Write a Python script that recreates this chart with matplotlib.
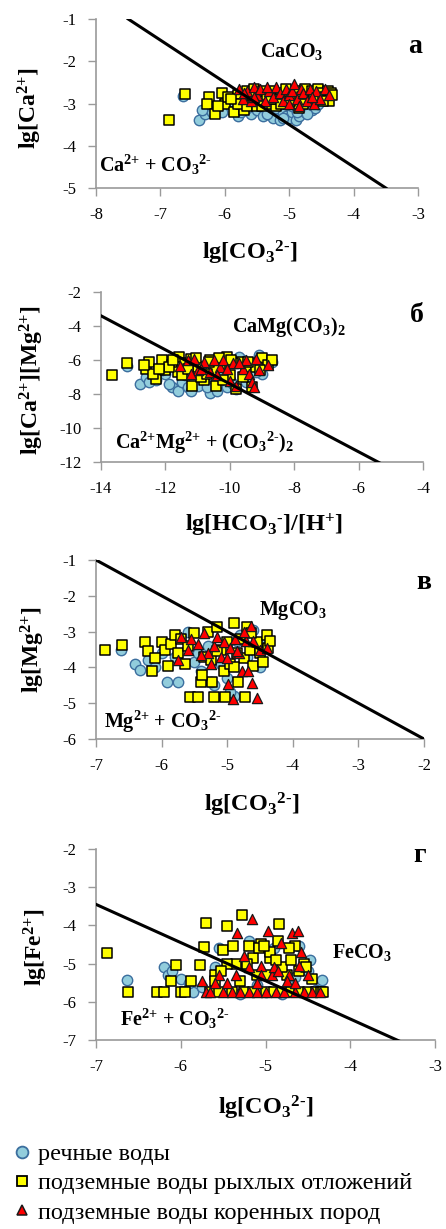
import numpy as np
import matplotlib
matplotlib.use("Agg")
import matplotlib.pyplot as plt
from matplotlib.lines import Line2D

plt.rcParams['font.family'] = ['Liberation Serif', 'DejaVu Serif']
plt.rcParams['mathtext.fontset'] = 'custom'
plt.rcParams['mathtext.rm'] = 'Liberation Serif:bold'
plt.rcParams['mathtext.bf'] = 'Liberation Serif:bold'
plt.rcParams['mathtext.default'] = 'bf'
plt.rcParams['axes.unicode_minus'] = False

# ---- panel а : CaCO3 ----
a_riv_x = [-6.65,-6.4,-6.3,-6.2,-6.1,-6.0,-5.9,-5.8,-5.75,-5.7,-5.6,-5.5,-5.45,-5.4,-5.3,-5.25,-5.2,-5.15,-5.1,-5.05,-5.0,-4.95,-4.9,-4.85,-4.8,-4.75,-4.7,-4.65,-4.6,-4.55,-4.5,-4.45,-4.4,-5.35,-5.9,-5.6,-4.95,-5.2,
           -6.35,-6.05,-5.65,-5.35,-5.1,-4.88,-4.72,-4.58]
a_riv_y = [-2.83,-3.38,-3.25,-3.2,-3.1,-3.05,-3.15,-3.3,-3.2,-3.0,-3.25,-3.15,-3.05,-3.3,-3.2,-3.35,-3.1,-3.4,-3.25,-3.3,-3.35,-3.2,-3.4,-3.3,-3.1,-3.2,-3.05,-3.15,-3.1,-3.0,-2.9,-2.85,-2.8,-3.0,-2.95,-2.9,-3.05,-2.95,
           -3.15,-3.2,-3.1,-3.25,-3.35,-3.2,-3.25,-2.95]
a_sed_x = [-6.87,-6.62,-6.25,-6.28,-6.15,-6.05,-6.0,-5.95,-5.85,-5.8,-5.75,-5.7,-5.65,-5.6,-5.55,-5.5,-5.45,-5.4,-5.35,-5.3,-5.25,-5.2,-5.15,-5.1,-5.05,-5.0,-4.95,-4.9,-4.85,-4.8,-4.75,-4.7,-4.65,-4.6,-4.55,-4.5,-4.45,-4.4,-4.38,-4.35,-5.8,-5.65,-5.2,-4.85,-6.1,-5.5,-5.0,-4.6,
           -5.9,-5.58,-5.42,-5.28,-5.12,-4.98,-4.78,-4.62,-4.48,-4.33]
a_sed_y = [-3.4,-2.78,-2.85,-3.0,-3.25,-2.75,-3.0,-2.85,-3.2,-2.8,-3.0,-3.15,-2.7,-2.9,-2.65,-2.85,-2.95,-2.7,-2.8,-3.0,-2.7,-3.05,-2.75,-2.9,-2.65,-3.0,-2.8,-2.7,-3.1,-2.85,-2.65,-2.95,-2.7,-2.8,-2.65,-2.75,-2.85,-2.7,-2.95,-2.75,-3.0,-3.05,-2.9,-3.0,-3.05,-3.05,-2.85,-2.9,
           -2.9,-2.8,-3.05,-2.9,-3.0,-2.95,-3.0,-2.9,-2.95,-2.8]
a_bed_x = [-5.78,-5.72,-5.65,-5.6,-5.55,-5.5,-5.45,-5.38,-5.32,-5.25,-5.2,-5.15,-5.1,-5.05,-5.0,-4.95,-4.92,-4.88,-4.82,-4.78,-4.72,-4.68,-4.62,-4.58,-4.52,-4.45,-4.38,-5.7,-5.35,-5.0,-4.65,-5.55,-4.85]
a_bed_y = [-2.65,-2.9,-2.7,-2.95,-2.6,-2.8,-2.65,-2.95,-2.7,-2.85,-2.6,-2.75,-2.95,-2.65,-2.8,-2.7,-2.55,-2.9,-2.65,-2.75,-2.95,-2.65,-3.0,-2.7,-2.9,-2.65,-2.8,-2.75,-2.6,-3.0,-2.85,-2.85,-3.05]
a_line_x = [-7.5, -3.5]
a_line_y = [-1, -5]

# ---- panel б : CaMg(CO3)2 ----
b_riv_x = [-13.2,-12.8,-12.6,-12.3,-12.0,-11.8,-11.6,-11.5,-11.3,-11.1,-11.0,-10.8,-10.6,-10.5,-10.3,-10.1,-10.0,-9.8,-9.6,-9.5,-9.3,-9.1,-9.0,-8.9,-8.8,-8.7,-11.4,-10.9,-10.2,-9.7,-9.2,-12.1,
           -12.5,-11.9,-11.2,-10.7,-10.4,-9.9]
b_riv_y = [-6.35,-7.4,-7.0,-7.2,-6.8,-7.6,-7.8,-7.3,-7.6,-7.1,-7.5,-7.2,-7.95,-7.4,-7.0,-7.6,-7.2,-7.7,-6.0,-7.3,-6.5,-5.7,-6.8,-6.3,-6.0,-6.1,-6.9,-6.5,-6.2,-5.8,-6.7,-6.6,
           -7.3,-7.4,-7.8,-7.6,-7.8,-7.4]
b_sed_x = [-13.66,-13.2,-12.6,-12.5,-12.3,-12.1,-12.0,-11.8,-11.6,-11.57,-11.4,-11.2,-11.17,-11.0,-10.8,-10.6,-10.43,-10.3,-10.1,-10.0,-9.8,-9.7,-9.5,-9.3,-9.1,-9.0,-8.8,-8.7,-12.4,-11.9,-11.5,-10.9,-10.5,-10.2,-9.9,-9.6,-9.2,-10.7,-11.3,
           -12.65,-12.2,-11.75,-11.05,-10.65,-10.35,-9.95,-9.45,-9.05]
b_sed_y = [-6.9,-6.15,-6.5,-6.1,-7.1,-6.0,-6.6,-6.3,-6.7,-5.85,-6.2,-5.95,-7.5,-6.4,-7.2,-6.0,-7.5,-6.3,-5.8,-6.9,-7.7,-6.1,-6.5,-7.6,-6.2,-5.9,-6.3,-6.0,-6.8,-6.4,-6.9,-7.0,-6.6,-7.2,-6.2,-7.0,-6.4,-6.8,-6.55,
           -6.3,-6.5,-6.0,-5.9,-6.1,-5.9,-6.0,-6.1,-6.6]
b_bed_x = [-11.55,-11.3,-11.1,-11.0,-10.8,-10.6,-10.5,-10.3,-10.2,-10.0,-9.9,-9.8,-9.6,-9.5,-9.4,-9.3,-9.2,-9.1,-8.8,-10.9,-10.4,-9.7,-9.25,-10.1,-11.2]
b_bed_y = [-6.35,-6.0,-5.95,-6.6,-6.1,-6.7,-6.0,-6.4,-6.0,-7.25,-6.2,-7.55,-6.5,-6.0,-6.8,-7.3,-5.95,-6.6,-6.3,-6.5,-6.9,-6.2,-7.6,-6.55,-6.8]
b_line_x = [-14, -5.3]
b_line_y = [-3.4, -12.1]

# ---- panel в : MgCO3 ----
c_riv_x = [-6.62,-6.4,-6.33,-6.2,-6.0,-5.92,-5.75,-5.6,-5.5,-5.4,-5.3,-5.2,-5.1,-5.0,-4.9,-4.8,-4.7,-4.6,-4.55,-4.5,-4.45,-5.45,-5.25,-4.95,-4.85,-6.1,-5.8]
c_riv_y = [-3.5,-3.9,-4.07,-3.8,-3.6,-4.4,-4.4,-3.0,-3.85,-4.1,-3.4,-4.5,-3.9,-4.3,-4.8,-3.1,-3.7,-2.95,-3.5,-4.0,-3.3,-3.6,-4.4,-4.7,-3.25,-4.0,-3.7]
c_sed_x = [-6.86,-6.6,-6.25,-6.2,-6.15,-6.0,-5.95,-5.9,-5.85,-5.8,-5.75,-5.7,-5.6,-5.57,-5.5,-5.45,-5.4,-5.35,-5.3,-5.25,-5.23,-5.2,-5.16,-5.1,-5.05,-5.03,-5.0,-4.95,-4.9,-4.85,-4.84,-4.8,-4.75,-4.73,-4.7,-4.65,-4.6,-4.55,-4.5,-4.45,-4.4,-4.38,-4.35,-6.1,-5.65,-5.38,-5.15,-4.9,-4.64]
c_sed_y = [-3.51,-3.37,-3.3,-3.55,-4.1,-3.3,-3.5,-3.95,-3.35,-3.1,-3.6,-3.2,-3.4,-4.83,-3.05,-4.83,-4.4,-3.7,-3.0,-3.8,-4.4,-4.83,-2.87,-3.5,-4.1,-4.83,-3.3,-3.9,-2.76,-3.6,-4.4,-3.2,-3.75,-4.83,-2.87,-3.5,-3.95,-3.3,-3.6,-3.85,-3.1,-3.45,-3.25,-3.75,-3.9,-4.2,-3.55,-4.0,-3.05]
c_bed_x = [-5.75,-5.7,-5.6,-5.55,-5.45,-5.35,-5.3,-5.2,-5.15,-5.1,-5.05,-4.99,-4.95,-4.91,-4.88,-4.82,-4.78,-4.72,-4.68,-4.64,-4.62,-4.6,-4.55,-4.5,-4.4,-5.25,-5.0,-4.85,-4.75,-5.4]
c_bed_y = [-3.8,-3.15,-3.5,-3.2,-3.35,-3.05,-3.6,-3.4,-3.15,-3.7,-3.3,-4.46,-3.45,-4.88,-3.2,-3.6,-4.1,-3.25,-4.1,-2.85,-4.44,-3.25,-4.86,-3.5,-3.45,-3.9,-3.75,-3.55,-3.0,-3.65]
c_line_x = [-7, -2]
c_line_y = [-1, -6]

# ---- panel г : FeCO3 ----
d_riv_x = [-6.63,-6.2,-6.15,-6.1,-6.0,-5.85,-5.75,-5.6,-5.55,-5.45,-5.3,-5.2,-5.1,-5.0,-4.9,-4.8,-4.7,-4.6,-4.5,-4.47,-4.4,-4.33,-5.9,-5.25,-4.65]
d_riv_y = [-5.43,-5.1,-5.3,-5.2,-5.4,-5.75,-5.6,-5.1,-4.6,-5.7,-5.8,-4.4,-5.55,-5.75,-4.6,-5.8,-5.5,-4.55,-5.2,-4.9,-5.7,-5.43,-5.5,-5.0,-5.35]
d_sed_x = [-6.87,-6.62,-6.28,-6.2,-6.12,-6.06,-6.0,-5.95,-5.88,-5.77,-5.73,-5.7,-5.65,-5.6,-5.55,-5.5,-5.45,-5.4,-5.35,-5.28,-5.25,-5.2,-5.15,-5.1,-5.05,-5.0,-4.95,-4.9,-4.85,-4.84,-4.8,-4.75,-4.7,-4.65,-4.6,-4.55,-4.5,-4.45,-4.4,-4.35,-4.32,-5.45,-5.0,-4.8,-5.3,-4.7,-5.6,-5.15,-4.95,-4.6,
           -5.38,-5.22,-5.08,-4.88,-4.72,-4.52,-5.52,-5.02]
d_sed_y = [-4.72,-5.74,-5.74,-5.74,-5.45,-5.04,-5.74,-5.74,-5.45,-5.04,-4.56,-3.94,-5.74,-5.3,-5.74,-4.65,-4.02,-5.74,-5.0,-3.73,-5.74,-4.55,-5.74,-5.3,-4.5,-5.74,-4.85,-5.74,-4.4,-3.97,-5.74,-5.3,-5.74,-4.55,-5.74,-5.0,-5.74,-5.4,-5.74,-5.74,-5.74,-5.0,-5.3,-5.1,-5.45,-4.9,-5.45,-4.85,-4.7,-5.2,
           -4.55,-5.0,-4.6,-4.9,-4.6,-5.1,-5.2,-4.55]
d_bed_x = [-5.75,-5.7,-5.65,-5.55,-5.5,-5.45,-5.4,-5.34,-5.3,-5.25,-5.2,-5.16,-5.1,-5.05,-5.0,-4.97,-4.92,-4.88,-4.82,-4.78,-4.72,-4.69,-4.65,-4.62,-4.6,-4.55,-4.5,-4.45,-4.36,-5.35,-5.2,-5.05,-4.9,-4.75,-4.58,-5.6,-5.1,-4.85,-4.65]
d_bed_y = [-5.45,-5.74,-5.74,-5.3,-5.74,-5.5,-5.74,-4.2,-5.74,-4.8,-5.74,-3.83,-5.74,-5.05,-5.74,-4.15,-5.3,-5.74,-4.45,-5.74,-5.3,-4.2,-5.74,-4.15,-5.05,-5.74,-5.3,-5.74,-5.74,-5.3,-5.1,-5.3,-5.1,-5.45,-4.7,-5.5,-5.5,-5.2,-5.5]
d_line_x = [-7, -3.4]
d_line_y = [-3.45, -7.05]

legend_labels = ['речные воды', 'подземные воды рыхлых отложений', 'подземные воды коренных пород']

W, H = 446, 1229
fig = plt.figure(figsize=(W/100, H/100), dpi=100)

P = r'\text{+}'
M = r'\text{-}'
CO3 = r'CO$_3$$^{2' + M + '}$'

panels = [
    dict(px=(96, 418, 19, 188), xlim=(-8, -3), ylim=(-5, -1), xt=np.arange(-8, -2, 1), yt=np.arange(-5, 0, 1),
         riv=(a_riv_x, a_riv_y), sed=(a_sed_x, a_sed_y), bed=(a_bed_x, a_bed_y), line=(a_line_x, a_line_y),
         xlabel='lg[' + CO3 + ']', ylabel='lg[Ca$^{2' + P + '}$]', letter='а', lpos=(-3.05, -1.65),
         top=(r'CaCO$_3$', -4.96, -1.78), bot=('Ca$^{2' + P + '}$ + ' + CO3, -7.08, -4.46),
         xl=(250, 253), yl=(30, 108)),
    dict(px=(101, 423, 292, 462), xlim=(-14, -4), ylim=(-12, -2), xt=np.arange(-14, -3, 2), yt=np.arange(-12, -1, 2),
         riv=(b_riv_x, b_riv_y), sed=(b_sed_x, b_sed_y), bed=(b_bed_x, b_bed_y), line=(b_line_x, b_line_y),
         xlabel='lg[HCO$_3$$^{' + M + '}$]/[H$^{' + P + '}$]', ylabel='lg[Ca$^{2' + P + '}$][Mg$^{2' + P + '}$]',
         letter='б', lpos=(-4.2, -3.4),
         top=(r'CaMg(CO$_3$)$_2$', -8.18, -4.06),
         bot=('Ca$^{2' + P + '}$Mg$^{2' + P + '}$ + (CO$_3$$^{2' + M + '}$)$_2$', -10.8, -10.9),
         xl=(264, 525), yl=(32, 380)),
    dict(px=(96, 424, 560, 739), xlim=(-7, -2), ylim=(-6, -1), xt=np.arange(-7, -1, 1), yt=np.arange(-6, 0, 1),
         riv=(c_riv_x, c_riv_y), sed=(c_sed_x, c_sed_y), bed=(c_bed_x, c_bed_y), line=(c_line_x, c_line_y),
         xlabel='lg[' + CO3 + ']', ylabel='lg[Mg$^{2' + P + '}$]', letter='в', lpos=(-2.0, -1.64),
         top=(r'MgCO$_3$', -4.0, -2.4), bot=('Mg$^{2' + P + '}$ + ' + CO3, -5.98, -5.52),
         xl=(252, 805), yl=(33, 650)),
    dict(px=(96, 435, 849, 1040), xlim=(-7, -3), ylim=(-7, -2), xt=np.arange(-7, -2, 1), yt=np.arange(-7, -1, 1),
         riv=(d_riv_x, d_riv_y), sed=(d_sed_x, d_sed_y), bed=(d_bed_x, d_bed_y), line=(d_line_x, d_line_y),
         xlabel='lg[' + CO3 + ']', ylabel='lg[Fe$^{2' + P + '}$]', letter='г', lpos=(-3.18, -2.16),
         top=(r'FeCO$_3$', -3.86, -4.7), bot=('Fe$^{2' + P + '}$ + ' + CO3, -6.07, -6.45),
         xl=(266, 1108), yl=(36, 947)),
]

riv_style = dict(marker='o', s=56, facecolor='#92CDDC', edgecolor='#3B6E9E', linewidths=1.0)
sed_style = dict(marker='s', s=46, facecolor='#FFFF00', edgecolor='black', linewidths=1.1)
bed_style = dict(marker='^', s=54, facecolor='#FF0000', edgecolor='#1a1a1a', linewidths=0.9)

for p in panels:
    l, r, t, b = p['px']
    ax = fig.add_axes([l/W, 1 - b/H, (r-l)/W, (b-t)/H])
    ax.scatter(*p['riv'], zorder=2, clip_on=False, **riv_style)
    ax.scatter(*p['sed'], zorder=3, clip_on=False, **sed_style)
    ax.scatter(*p['bed'], zorder=4, clip_on=False, **bed_style)
    ax.plot(*p['line'], color='black', lw=2.2, zorder=5)
    ax.set_xlim(*p['xlim'])
    ax.set_ylim(*p['ylim'])
    ax.set_xticks(p['xt'])
    ax.set_yticks(p['yt'])
    ax.set_xticklabels([str(v) for v in p['xt']])
    ax.set_yticklabels([str(v) for v in p['yt']])
    ax.tick_params(direction='out', length=6, width=1, color='#9a9a9a', labelsize=12, pad=8,
                   labelfontfamily='Liberation Serif')
    for s in ['top', 'right']:
        ax.spines[s].set_visible(False)
    for s in ['left', 'bottom']:
        ax.spines[s].set_color('#9a9a9a')
        ax.spines[s].set_linewidth(1.2)
    ax.set_xlabel(p['xlabel'], fontsize=17.5, fontweight='bold', va='center')
    ax.set_ylabel(p['ylabel'], fontsize=17, fontweight='bold', va='center')
    ax.xaxis.set_label_coords((p['xl'][0] - l) / (r - l), (b - p['xl'][1]) / (b - t))
    ax.yaxis.set_label_coords((p['yl'][0] - l) / (r - l), (b - p['yl'][1]) / (b - t))
    ax.text(p['lpos'][0], p['lpos'][1], p['letter'], fontsize=20, fontweight='bold', ha='center', va='center')
    tx = p['top']
    ax.text(tx[1], tx[2], tx[0], fontsize=14.5, fontweight='bold', ha='center', va='center')
    tx = p['bot']
    ax.text(tx[1], tx[2], tx[0], fontsize=14.5, fontweight='bold', ha='center', va='center')

handles = [
    Line2D([], [], ls='none', marker='o', ms=8.5, mfc='#92CDDC', mec='#3B6E9E', mew=1.3),
    Line2D([], [], ls='none', marker='s', ms=7.5, mfc='#FFFF00', mec='black', mew=1.3),
    Line2D([], [], ls='none', marker='^', ms=7.5, mfc='#FF0000', mec='#1a1a1a', mew=1.1),
]
fig.legend(handles, legend_labels, loc='upper left', bbox_to_anchor=(12/W, 1 - 1143/H),
           frameon=False, prop={'family': 'Liberation Serif', 'size': 17.5},
           handlelength=0.85, handletextpad=0.2, labelspacing=0.3,
           borderaxespad=0, borderpad=0)

fig.savefig('out.png', dpi=100)
